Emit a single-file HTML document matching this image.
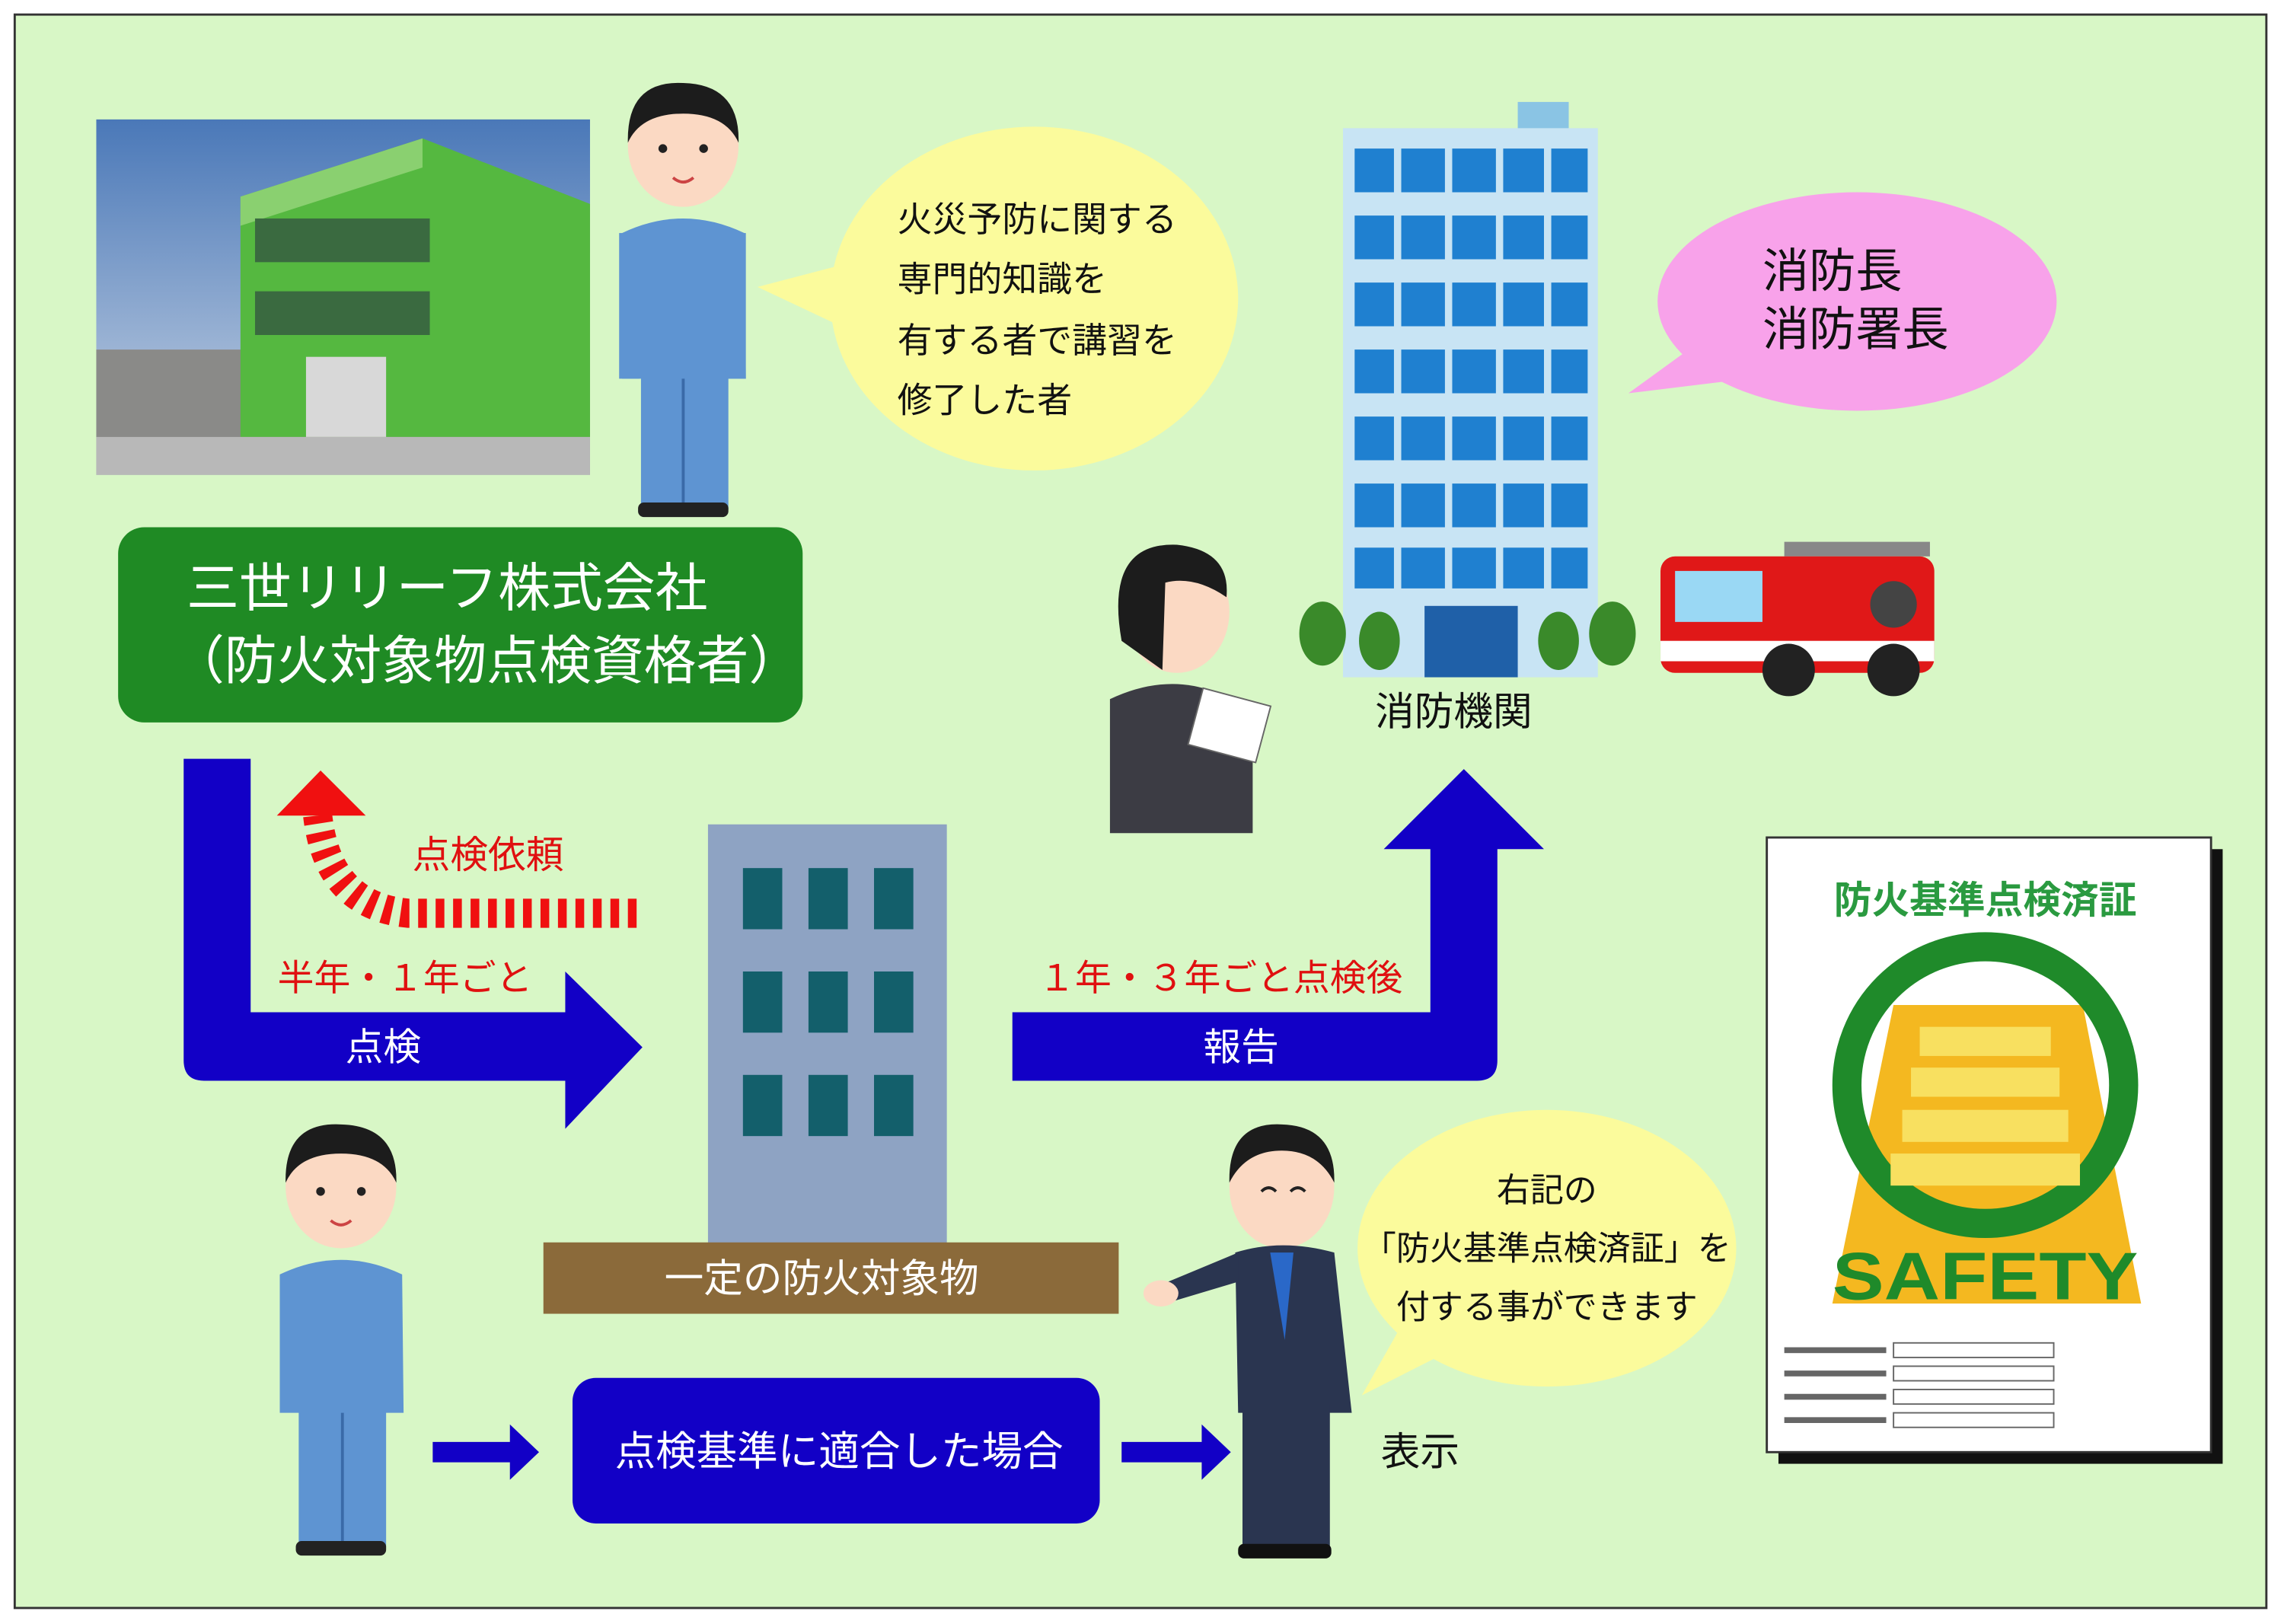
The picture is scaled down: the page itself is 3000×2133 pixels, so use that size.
<!DOCTYPE html>
<html><head><meta charset="utf-8"><style>
html,body{margin:0;padding:0;background:#fff}
svg{display:block}
text{font-family:"Liberation Sans","Noto Sans CJK JP",sans-serif}
</style></head><body>
<svg width="3000" height="2133" viewBox="0 0 1568 1115" xmlns="http://www.w3.org/2000/svg">
<rect x="0" y="0" width="1568" height="1115" fill="#fff"/>
<rect x="10" y="10" width="1546" height="1094" fill="#d8f7c6" stroke="#333" stroke-width="1.5"/>

<!-- photo -->
<defs><linearGradient id="sky" x1="0" y1="0" x2="0" y2="1"><stop offset="0" stop-color="#4a78b8"/><stop offset="1" stop-color="#c8d4e4"/></linearGradient></defs>
<rect x="66" y="82" width="339" height="244" fill="url(#sky)"/>
<rect x="66" y="240" width="339" height="86" fill="#8a8a88"/>
<polygon points="165,135 290,95 405,140 405,300 165,300" fill="#55b840"/>
<polygon points="165,135 290,95 290,115 165,155" fill="#8ad070"/>
<rect x="175" y="150" width="120" height="30" fill="#3a6a40"/>
<rect x="175" y="200" width="120" height="30" fill="#3a6a40"/>
<rect x="210" y="245" width="55" height="55" fill="#d8d8d8"/>
<rect x="66" y="300" width="339" height="26" fill="#b8b8b8"/>

<!-- top person -->
<ellipse cx="469" cy="100" rx="38" ry="42" fill="#fbd9c3"/>
<path d="M431,98 Q430,55 469,57 Q508,58 507,98 Q498,78 469,78 Q440,78 431,98Z" fill="#1c1c1c"/>
<circle cx="455" cy="102" r="3" fill="#222"/><circle cx="483" cy="102" r="3" fill="#222"/>
<path d="M462,122 Q469,128 476,122" stroke="#c44" stroke-width="2" fill="none"/>
<path d="M427,160 Q469,140 511,160 L512,260 L427,260Z" fill="#5e94d2"/>
<rect x="440" y="255" width="60" height="95" fill="#5e94d2"/>
<rect x="425" y="160" width="14" height="100" fill="#5e94d2"/>
<rect x="498" y="160" width="14" height="100" fill="#5e94d2"/>
<line x1="469" y1="260" x2="469" y2="350" stroke="#3a6aa8" stroke-width="2"/>
<rect x="438" y="345" width="62" height="10" rx="4" fill="#222"/>

<!-- yellow bubble top -->
<polygon points="520,197 585,180 590,230" fill="#fbfb9c"/>
<ellipse cx="710" cy="205" rx="140" ry="118" fill="#fbfb9c"/>
<text font-size="24" fill="#111"><tspan x="616" y="159">火災予防に関する</tspan><tspan x="616" y="200">専門的知識を</tspan><tspan x="616" y="242">有する者で講習を</tspan><tspan x="616" y="283">修了した者</tspan></text>

<!-- green box -->
<rect x="81" y="362" width="470" height="134" rx="18" fill="#1f8a24"/>
<text font-size="36" fill="#fff"><tspan x="128" y="416">三世リリーフ株式会社</tspan><tspan x="118" y="466">（防火対象物点検資格者）</tspan></text>

<!-- tall building -->
<rect x="1042" y="70" width="35" height="20" fill="#8ac4e4"/>
<rect x="922" y="88" width="175" height="377" fill="#c8e4f4"/>
<g fill="#1f80d0">
<rect x="930" y="102" width="160" height="30"/><rect x="930" y="148" width="160" height="30"/>
<rect x="930" y="194" width="160" height="30"/><rect x="930" y="240" width="160" height="30"/>
<rect x="930" y="286" width="160" height="30"/><rect x="930" y="332" width="160" height="30"/>
<rect x="930" y="376" width="160" height="28"/>
</g>
<g fill="#c8e4f4"><rect x="957" y="100" width="5" height="306"/><rect x="992" y="100" width="5" height="306"/><rect x="1027" y="100" width="5" height="306"/><rect x="1060" y="100" width="5" height="306"/></g>
<rect x="978" y="416" width="64" height="49" fill="#1f60a8"/>
<g fill="#3a8a2a"><ellipse cx="908" cy="435" rx="16" ry="22"/><ellipse cx="947" cy="440" rx="14" ry="20"/><ellipse cx="1070" cy="440" rx="14" ry="20"/><ellipse cx="1107" cy="435" rx="16" ry="22"/></g>
<text x="998" y="498" font-size="27" fill="#111" text-anchor="middle">消防機関</text>

<!-- pink bubble -->
<polygon points="1118,270 1180,225 1200,260" fill="#f8a2ea"/>
<ellipse cx="1275" cy="207" rx="137" ry="75" fill="#f8a2ea"/>
<text font-size="32" fill="#111"><tspan x="1210" y="197">消防長</tspan><tspan x="1210" y="237">消防署長</tspan></text>

<!-- fire truck -->
<rect x="1225" y="372" width="100" height="10" fill="#888"/>
<rect x="1140" y="382" width="188" height="80" rx="10" fill="#e01818"/>
<rect x="1150" y="392" width="60" height="35" fill="#9ad8f4"/>
<rect x="1140" y="440" width="188" height="14" fill="#fff"/>
<circle cx="1228" cy="460" r="18" fill="#222"/><circle cx="1300" cy="460" r="18" fill="#222"/>
<circle cx="1300" cy="415" r="16" fill="#444"/>

<!-- woman -->
<path d="M762,480 Q815,455 860,490 L860,572 L762,572Z" fill="#3c3c44"/>
<ellipse cx="808" cy="420" rx="36" ry="42" fill="#fbd9c3"/>
<path d="M770,440 Q758,372 808,374 Q845,378 842,410 Q820,395 800,400 L798,460 Z" fill="#1c1c1c"/>
<rect x="820" y="478" width="48" height="40" fill="#fff" stroke="#666" transform="rotate(15 844 498)"/>

<!-- left arrow -->
<path d="M126,521 L172,521 L172,695 L388,695 L388,667 L441,719 L388,775 L388,742 L140,742 Q126,742 126,728Z" fill="#1200c6"/>
<text x="263" y="728" font-size="26" fill="#fff" text-anchor="middle">点検</text>
<text x="278" y="680" font-size="25" fill="#e01010" text-anchor="middle">半年・１年ごと</text>

<!-- red dashed curved arrow -->
<path d="M437,627 L280,627 Q225,622 218,560" fill="none" stroke="#f01010" stroke-width="20" stroke-dasharray="6,6"/>
<polygon points="190,560 220,529 251,560" fill="#f01010"/>
<text x="335" y="596" font-size="26" fill="#e01010" text-anchor="middle">点検依頼</text>

<!-- center building -->
<rect x="486" y="566" width="164" height="290" fill="#8ea3c3"/>
<g fill="#135f6b">
<rect x="510" y="596" width="27" height="42"/><rect x="555" y="596" width="27" height="42"/><rect x="600" y="596" width="27" height="42"/>
<rect x="510" y="667" width="27" height="42"/><rect x="555" y="667" width="27" height="42"/><rect x="600" y="667" width="27" height="42"/>
<rect x="510" y="738" width="27" height="42"/><rect x="555" y="738" width="27" height="42"/><rect x="600" y="738" width="27" height="42"/>
</g>
<rect x="373" y="853" width="395" height="49" fill="#8b6a3a"/>
<text x="564" y="887" font-size="27" fill="#fff" text-anchor="middle">一定の防火対象物</text>

<!-- right arrow -->
<path d="M695,695 L982,695 L982,583 L950,583 L1005,528 L1060,583 L1028,583 L1028,728 Q1028,742 1014,742 L695,742Z" fill="#1200c6"/>
<text x="852" y="728" font-size="26" fill="#fff" text-anchor="middle">報告</text>
<text x="838" y="680" font-size="25" fill="#e01010" text-anchor="middle">１年・３年ごと点検後</text>

<!-- bottom person -->
<ellipse cx="234" cy="815" rx="38" ry="42" fill="#fbd9c3"/>
<path d="M196,812 Q195,770 234,772 Q273,773 272,812 Q263,792 234,792 Q205,792 196,812Z" fill="#1c1c1c"/>
<circle cx="220" cy="818" r="3" fill="#222"/><circle cx="248" cy="818" r="3" fill="#222"/>
<path d="M227,838 Q234,844 241,838" stroke="#c44" stroke-width="2" fill="none"/>
<path d="M192,875 Q234,855 276,875 L277,970 L192,970Z" fill="#5e94d2"/>
<rect x="205" y="965" width="60" height="97" fill="#5e94d2"/>
<line x1="235" y1="970" x2="235" y2="1062" stroke="#3a6aa8" stroke-width="2"/>
<rect x="203" y="1058" width="62" height="10" rx="4" fill="#222"/>

<!-- small arrows -->
<path d="M297,990 L350,990 L350,978 L370,997 L350,1016 L350,1004 L297,1004Z" fill="#1200c6"/>
<path d="M770,990 L825,990 L825,978 L845,997 L825,1016 L825,1004 L770,1004Z" fill="#1200c6"/>

<!-- blue box -->
<rect x="393" y="946" width="362" height="100" rx="16" fill="#1200c6"/>
<text x="576" y="1006" font-size="28" fill="#fff" text-anchor="middle">点検基準に適合した場合</text>

<!-- suit man -->
<ellipse cx="880" cy="815" rx="36" ry="42" fill="#fbd9c3"/>
<path d="M844,812 Q843,770 880,772 Q917,773 916,812 Q905,790 880,790 Q855,790 844,812Z" fill="#1c1c1c"/>
<path d="M866,818 Q871,813 876,818 M886,818 Q891,813 896,818" stroke="#222" stroke-width="2" fill="none"/>
<path d="M848,860 Q880,850 916,860 L928,970 L850,970Z" fill="#2a3550"/>
<polygon points="872,860 888,860 882,920" fill="#2a68c8"/>
<path d="M850,880 L800,895 L790,885 L850,860Z" fill="#2a3550"/>
<ellipse cx="797" cy="888" rx="12" ry="9" fill="#fbd9c3"/>
<rect x="853" y="965" width="60" height="100" fill="#2a3550"/>
<rect x="850" y="1060" width="64" height="10" rx="4" fill="#111"/>

<!-- right yellow bubble -->
<polygon points="935,958 965,905 1000,925" fill="#fbfb9c"/>
<ellipse cx="1062" cy="857" rx="130" ry="95" fill="#fbfb9c"/>
<text font-size="23" fill="#111" text-anchor="middle"><tspan x="1062" y="825">右記の</tspan><tspan x="1062" y="865">「防火基準点検済証」を</tspan><tspan x="1062" y="905">付する事ができます</tspan></text>
<text x="975" y="1006" font-size="27" fill="#111" text-anchor="middle">表示</text>

<!-- certificate -->
<rect x="1221" y="583" width="305" height="422" fill="#111"/>
<rect x="1213" y="575" width="305" height="422" fill="#fff" stroke="#333" stroke-width="1.5"/>
<text x="1363" y="627" font-size="26" font-weight="bold" fill="#2a9a40" text-anchor="middle">防火基準点検済証</text>
<polygon points="1300,690 1430,690 1470,895 1258,895" fill="#f4b820"/>
<circle cx="1363" cy="745" r="95" fill="none" stroke="#1f8a2a" stroke-width="20"/>
<g fill="#f8e060"><rect x="1318" y="705" width="90" height="20"/><rect x="1312" y="733" width="102" height="20"/><rect x="1306" y="762" width="114" height="22"/><rect x="1298" y="792" width="130" height="22"/></g>
<text x="1363" y="892" font-size="46" font-weight="bold" fill="#1f8a2a" text-anchor="middle" textLength="210" lengthAdjust="spacingAndGlyphs">SAFETY</text>
<g fill="none" stroke="#666" stroke-width="1"><rect x="1300" y="922" width="110" height="10"/><rect x="1300" y="938" width="110" height="10"/><rect x="1300" y="954" width="110" height="10"/><rect x="1300" y="970" width="110" height="10"/></g>
<g fill="#666"><rect x="1225" y="925" width="70" height="4"/><rect x="1225" y="941" width="70" height="4"/><rect x="1225" y="957" width="70" height="4"/><rect x="1225" y="973" width="70" height="4"/></g>
</svg>
</body></html>
